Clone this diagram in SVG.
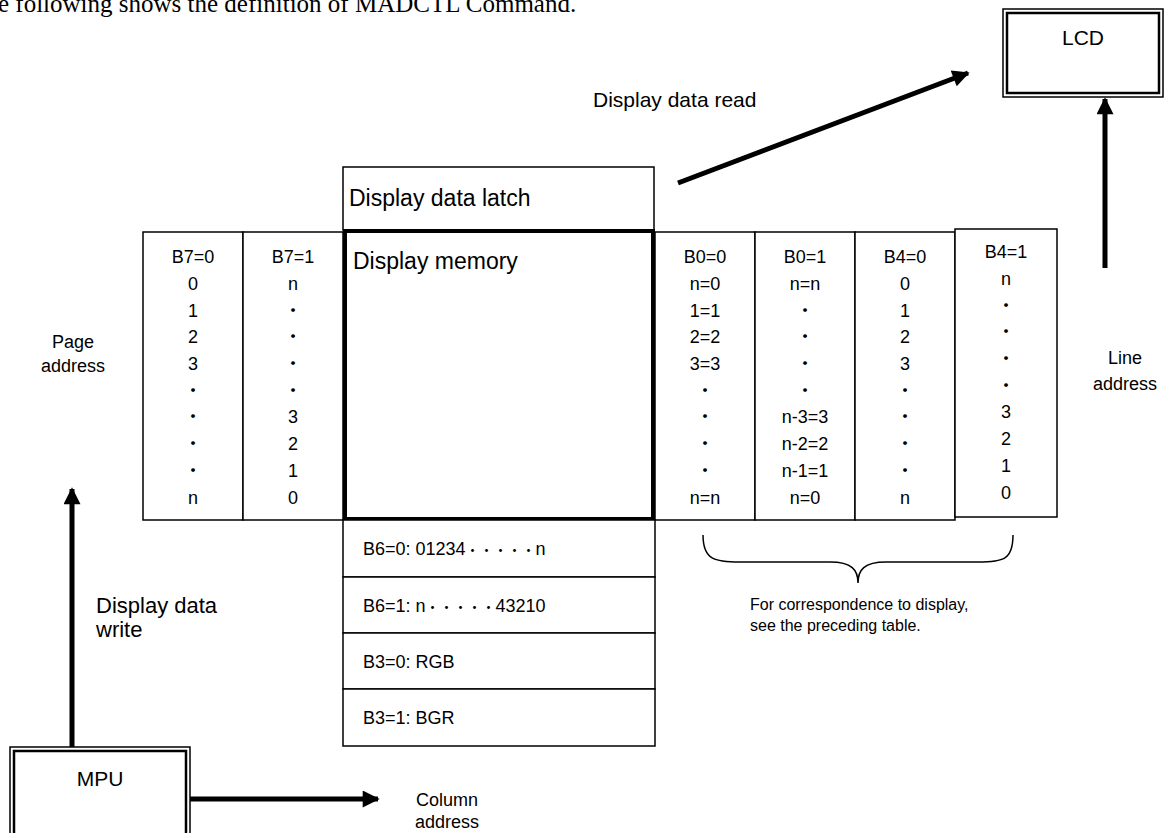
<svg xmlns="http://www.w3.org/2000/svg" width="1167" height="833" viewBox="0 0 1167 833">
<style>
.t{font-family:"Liberation Sans",Arial,"Noto Sans CJK JP",sans-serif;fill:#000}
.big{font-size:21px}
.huge{font-size:23px}
.col{font-size:18px;text-anchor:middle}
.row{font-size:18px}
.lab{font-size:18px;text-anchor:middle}
.cap{font-size:16px}
.box{fill:#fff;stroke:#000;stroke-width:1.5}
.conn{stroke:#000;stroke-width:5;fill:none}
</style>
<defs>
<marker id="ah" viewBox="0 0 10 10" refX="9" refY="5" markerWidth="4.4" markerHeight="3.4" orient="auto" markerUnits="strokeWidth">
<path d="M0,0 L10,5 L0,10 z" fill="#000"/>
</marker>
</defs>
<rect width="1167" height="833" fill="#fff"/>
<text x="-2" y="12" style="font-family:'Liberation Serif','Times New Roman',serif;font-size:25px">e following shows the definition of MADCTL Command.</text>

<g id="lcd">
<rect x="1003" y="9" width="160" height="88" fill="#fff" stroke="#000" stroke-width="1.5"/>
<rect x="1007" y="13" width="152" height="80" fill="none" stroke="#000" stroke-width="2.5"/>
<text class="t big" x="1083" y="45" text-anchor="middle">LCD</text>
</g>

<g id="mpu">
<rect x="10" y="747" width="180" height="95" fill="#fff" stroke="#000" stroke-width="1.5"/>
<rect x="14" y="751" width="172" height="87" fill="none" stroke="#000" stroke-width="2.5"/>
<text class="t big" x="100" y="786" text-anchor="middle">MPU</text>
</g>

<g id="latch">
<rect class="box" x="343" y="167" width="311" height="63"/>
<text class="t huge" x="349" y="206">Display data latch</text>
</g>

<g id="page-cols">
<rect class="box" x="143" y="232" width="100" height="288"/>
<rect class="box" x="243" y="232" width="100" height="288"/>
<g class="t col">
<text x="193" y="263">B7=0</text><text x="193" y="290">0</text><text x="193" y="317">1</text><text x="193" y="343">2</text><text x="193" y="370">3</text><text x="193" y="397">・</text><text x="193" y="423">・</text><text x="193" y="450">・</text><text x="193" y="477">・</text><text x="193" y="504">n</text>
<text x="293" y="263">B7=1</text><text x="293" y="290">n</text><text x="293" y="317">・</text><text x="293" y="343">・</text><text x="293" y="370">・</text><text x="293" y="397">・</text><text x="293" y="423">3</text><text x="293" y="450">2</text><text x="293" y="477">1</text><text x="293" y="504">0</text>
</g>
</g>

<g id="line-cols">
<rect class="box" x="655" y="232" width="100" height="288"/>
<rect class="box" x="755" y="232" width="100" height="288"/>
<rect class="box" x="855" y="232" width="100" height="288"/>
<rect class="box" x="955" y="229" width="102" height="288"/>
<g class="t col">
<text x="705" y="263">B0=0</text><text x="705" y="290">n=0</text><text x="705" y="317">1=1</text><text x="705" y="343">2=2</text><text x="705" y="370">3=3</text><text x="705" y="397">・</text><text x="705" y="423">・</text><text x="705" y="450">・</text><text x="705" y="477">・</text><text x="705" y="504">n=n</text>
<text x="805" y="263">B0=1</text><text x="805" y="290">n=n</text><text x="805" y="317">・</text><text x="805" y="343">・</text><text x="805" y="370">・</text><text x="805" y="397">・</text><text x="805" y="423">n-3=3</text><text x="805" y="450">n-2=2</text><text x="805" y="477">n-1=1</text><text x="805" y="504">n=0</text>
<text x="905" y="263">B4=0</text><text x="905" y="290">0</text><text x="905" y="317">1</text><text x="905" y="343">2</text><text x="905" y="370">3</text><text x="905" y="397">・</text><text x="905" y="423">・</text><text x="905" y="450">・</text><text x="905" y="477">・</text><text x="905" y="504">n</text>
<text x="1006" y="258">B4=1</text><text x="1006" y="285">n</text><text x="1006" y="312">・</text><text x="1006" y="338">・</text><text x="1006" y="365">・</text><text x="1006" y="392">・</text><text x="1006" y="418">3</text><text x="1006" y="445">2</text><text x="1006" y="472">1</text><text x="1006" y="499">0</text>
</g>
</g>

<g id="memory">
<rect x="345" y="231" width="308" height="288" fill="#fff" stroke="#000" stroke-width="4"/>
<text class="t huge" x="353" y="269">Display memory</text>
</g>

<g id="col-order">
<rect class="box" x="343" y="520" width="312" height="57"/>
<rect class="box" x="343" y="577" width="312" height="56"/>
<rect class="box" x="343" y="633" width="312" height="56"/>
<rect class="box" x="343" y="689" width="312" height="57"/>
<text class="t row" x="363" y="555">B6=0: 01234<tspan style="font-size:14px">・・・・・</tspan>n</text>
<text class="t row" x="363" y="612">B6=1: n<tspan style="font-size:14px">・・・・・</tspan>43210</text>
<text class="t row" x="363" y="668">B3=0: RGB</text>
<text class="t row" x="363" y="724">B3=1: BGR</text>
</g>

<g id="brace">
<path d="M703,535 C703,560 715,562 740,562 L830,562 C852,562 858,570 858,583 C858,570 864,562 886,562 L978,562 C1003,562 1013,560 1013,535" fill="none" stroke="#000" stroke-width="1.5"/>
<text class="t cap" x="750" y="610">For correspondence to display,</text>
<text class="t cap" x="750" y="631">see the preceding table.</text>
</g>

<g id="labels">
<text class="t lab" x="73" y="348">Page</text>
<text class="t lab" x="73" y="372">address</text>
<text class="t lab" x="1125" y="364">Line</text>
<text class="t lab" x="1125" y="390">address</text>
<text class="t lab" x="447" y="806">Column</text>
<text class="t lab" x="447" y="828">address</text>
<text class="t big" x="593" y="107">Display data read</text>
<text class="t" style="font-size:22px" x="96" y="613">Display data</text>
<text class="t" style="font-size:22px" x="96" y="637">write</text>
</g>

<g id="connectors">
<line class="conn" x1="72" y1="747" x2="72" y2="489" marker-end="url(#ah)"/>
<line class="conn" x1="190" y1="799" x2="378" y2="799" marker-end="url(#ah)"/>
<line class="conn" x1="1105" y1="268" x2="1105" y2="99" marker-end="url(#ah)"/>
<line class="conn" x1="678" y1="183" x2="968" y2="73" marker-end="url(#ah)"/>
</g>
</svg>
